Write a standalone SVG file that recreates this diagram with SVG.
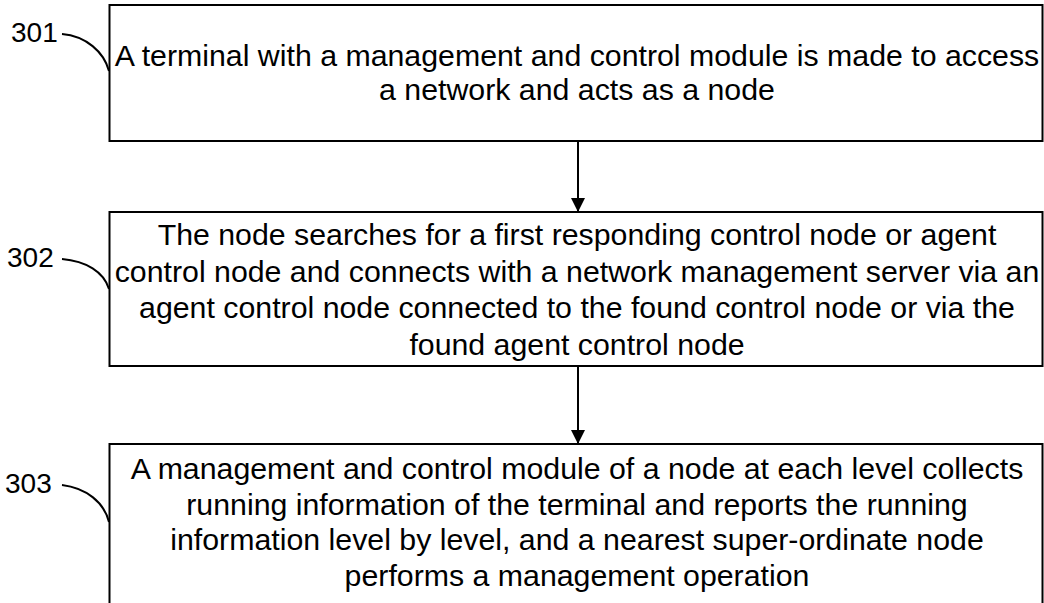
<svg xmlns="http://www.w3.org/2000/svg" width="1044" height="603" viewBox="0 0 1044 603">
<style>
.box{fill:#fff;stroke:#000;stroke-width:2}
.t{font-family:"Liberation Sans",Arial,sans-serif;font-size:30.3px;fill:#000;text-anchor:middle}
.lbl{font-family:"Liberation Sans",Arial,sans-serif;font-size:28px;fill:#000}
.lead{fill:none;stroke:#000;stroke-width:2}
.conn{stroke:#000;stroke-width:2;fill:none}
</style>
<defs>
<marker id="ah" viewBox="0 0 14 14" refX="14" refY="7" markerWidth="14" markerHeight="14" markerUnits="userSpaceOnUse" orient="auto">
<path d="M0,0 L14,7 L0,14 Z" fill="#000"/>
</marker>
</defs>
<rect width="1044" height="603" fill="#fff"/>
<g id="node301">
<rect class="box" x="109.5" y="5" width="933" height="136"/>
<text class="t" x="577" y="66">A terminal with a management and control module is made to access</text>
<text class="t" x="577" y="100">a network and acts as a node</text>
<text class="lbl" x="11" y="42">301</text>
<path class="lead" d="M62,34 C86,36 104,52 109,71"/>
</g>
<g id="node302">
<rect class="box" x="109.5" y="212" width="933" height="154"/>
<text class="t" x="577" y="245">The node searches for a first responding control node or agent</text>
<text class="t" x="577" y="282">control node and connects with a network management server via an</text>
<text class="t" x="577" y="318">agent control node connected to the found control node or via the</text>
<text class="t" x="577" y="355">found agent control node</text>
<text class="lbl" x="7" y="267">302</text>
<path class="lead" d="M62,259 C86,261 104,272 109,289"/>
</g>
<g id="node303">
<rect class="box" x="109.5" y="444" width="933" height="170"/>
<text class="t" x="577" y="479">A management and control module of a node at each level collects</text>
<text class="t" x="577" y="515">running information of the terminal and reports the running</text>
<text class="t" x="577" y="550">information level by level, and a nearest super-ordinate node</text>
<text class="t" x="577" y="586">performs a management operation</text>
<text class="lbl" x="5" y="493">303</text>
<path class="lead" d="M62,485 C86,488 104,502 109,522"/>
</g>
<g id="connectors">
<line class="conn" x1="578" y1="141" x2="578" y2="212" marker-end="url(#ah)"/>
<line class="conn" x1="578" y1="366" x2="578" y2="444" marker-end="url(#ah)"/>
</g>
</svg>
